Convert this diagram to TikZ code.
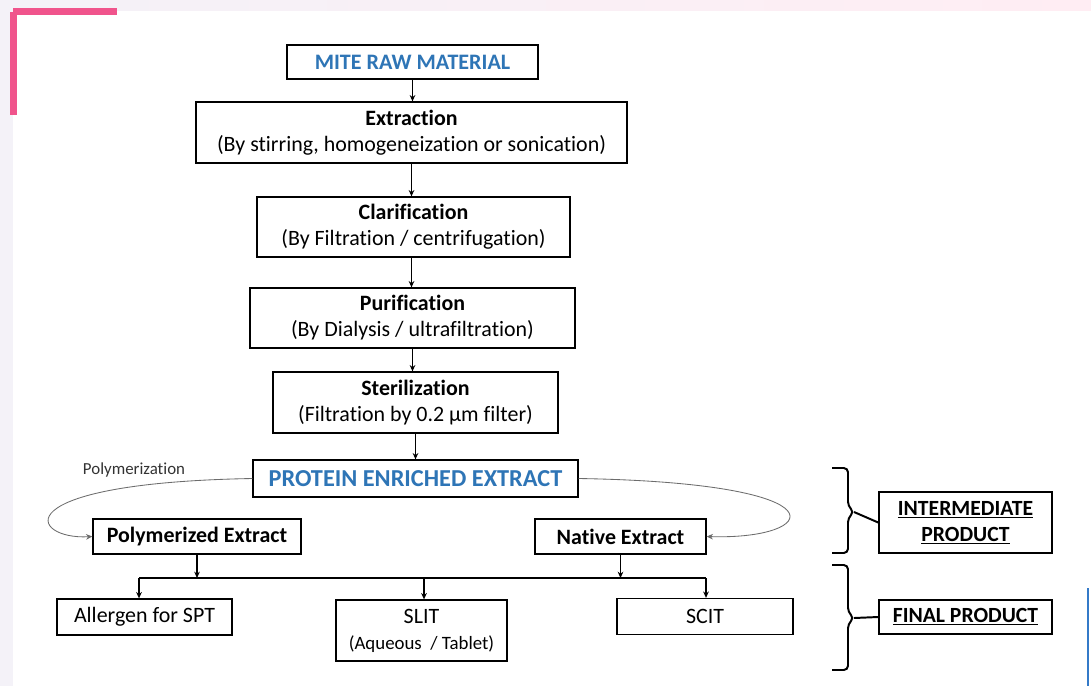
\documentclass[tikz,border=0pt]{standalone}
\usepackage{fontspec}
\setmainfont{Carlito}[Ligatures=NoCommon]
\usetikzlibrary{arrows.meta,calc}
\definecolor{slidebg}{RGB}{244,242,248}
\definecolor{slidepink}{RGB}{255,237,243}
\definecolor{accentpink}{RGB}{240,84,140}
\definecolor{titleblue}{RGB}{46,117,182}
\definecolor{edgeblue}{RGB}{52,122,200}
\tikzset{
  stepbox/.style={draw=black, line width=0.9pt, fill=white, inner sep=0pt,
                  align=center, font=\fontsize{15.6}{18.5}\selectfont},
  titlebox/.style={stepbox, text=titleblue,
                   font=\fontsize{15.7}{18}\selectfont\bfseries},
  namebox/.style={stepbox, font=\fontsize{15.6}{18}\selectfont\bfseries},
  prodbox/.style={stepbox, line width=1.1pt,
                  font=\fontsize{15.4}{18.5}\selectfont\bfseries},
  flow/.style={-{Stealth[length=4.5pt,width=4pt]}, line width=0.8pt},
  loopflow/.style={-{Stealth[length=4.5pt,width=4pt]}, draw=gray!85!black,
                   line width=0.6pt},
  bracket/.style={line width=1.4pt, rounded corners=3pt},
}

\begin{document}
\begin{tikzpicture}[x=0.025cm, y=-0.025cm]
\useasboundingbox (0,0) rectangle (1091,686);
% slide background and corner mark
\fill[slidebg] (0,0) rectangle (1091,686);
\shade[left color=slidebg, right color=slidepink] (0,0) rectangle (1091,11);
\fill[white] (13,11) rectangle (1091,686);
\fill[accentpink] (13,8) rectangle (117,15);
\fill[accentpink] (10,12) rectangle (17,115);
\draw[edgeblue, line width=1.2pt] (1088,588) -- (1088,686);

% process chain
\node[titlebox, minimum width=6.275cm, minimum height=0.85cm] (raw) at (412.5,62) {MITE RAW MATERIAL};
\node[stepbox, minimum width=10.775cm, minimum height=1.525cm] (extr) at (411.5,132.5)
  {\textbf{Extraction}\\(By stirring, homogeneization or sonication)};
\node[stepbox, minimum width=7.825cm, minimum height=1.5cm] (clar) at (413.5,227)
  {\textbf{Clarification}\\(By Filtration / centrifugation)};
\node[stepbox, minimum width=8.125cm, minimum height=1.5cm] (puri) at (412.5,318)
  {\textbf{Purification}\\(By Dialysis / ultrafiltration)};
\node[stepbox, minimum width=7.125cm, minimum height=1.525cm] (ster) at (415.5,402.5)
  {\textbf{Sterilization}\\(Filtration by 0.2 µm filter)};
\node[titlebox, minimum width=8.125cm, minimum height=0.925cm,
      font=\fontsize{17.3}{20}\selectfont\bfseries] (prot) at (415.5,478.5) {PROTEIN ENRICHED EXTRACT};

% extracts
\node[namebox, minimum width=5.2cm, minimum height=0.875cm] (poly) at (197,536.5) {Polymerized Extract};
\node[namebox, minimum width=4.275cm, minimum height=0.875cm] (nati) at (620.5,536.5) {Native Extract};

% final products
\node[stepbox, minimum width=4.375cm, minimum height=0.9cm] (spt) at (144.5,617) {Allergen for SPT};
\node[stepbox, minimum width=4.275cm, minimum height=1.525cm] (slit) at (421.5,630.5)
  {SLIT\\{\fontsize{13.4}{17}\selectfont(Aqueous~ / Tablet)}};
\node[stepbox, minimum width=4.4cm, minimum height=0.9cm] (scit) at (705,616.5) {SCIT};

% product labels
\node[prodbox, minimum width=4.325cm, minimum height=1.525cm] (inter) at (965.5,522.5)
  {\underline{INTERMEDIATE}\\\underline{PRODUCT}};
\node[prodbox, minimum width=4.325cm, minimum height=0.85cm] (final) at (965.5,617) {\underline{FINAL PRODUCT}};

% arrows down the chain
\draw[flow] (raw.south) -- (raw.south |- extr.north);
\draw[flow] (extr.south) -- (extr.south |- clar.north);
\draw[flow] (clar.south -| extr.south) -- (extr.south |- puri.north);
\draw[flow] (puri.south) -- (puri.south |- ster.north);
\draw[flow] (ster.south) -- (ster.south |- prot.north);

% polymerization / native loops
\draw[loopflow] (prot.west) .. controls (0,483) and (30,540) .. (poly.west);
\draw[loopflow] (prot.east) .. controls (850,483) and (820,540) .. (nati.east);
\node[font=\fontsize{12}{14}\selectfont, text=black!80] (polylbl) at (134,470) {Polymerization};

% distribution bus
\coordinate (busL) at (139,578);
\coordinate (busM) at (424,578);
\coordinate (busR) at (706,578);
\draw[line width=0.8pt] (busL) -- (busR);
\draw[flow] (poly.south) -- (poly.south |- busL);
\draw[flow] (nati.south) -- (nati.south |- busL);
\draw[flow] (busL) -- (busL |- spt.north);
\draw[flow] (busM) -- (busM |- slit.north);
\draw[flow] (busR) -- (busR |- scit.north);

% braces
\draw[bracket] (832,468) -| (848,506) -- (854,512) -- (848,518) |- (832,553);
\draw[line width=1.4pt] (854,512) -- (inter.west);
\draw[bracket] (832,565) -| (848,612) -- (854,618) -- (848,624) |- (832,670);
\draw[line width=1.4pt] (854,618) -- (final.west);
\end{tikzpicture}
\end{document}
